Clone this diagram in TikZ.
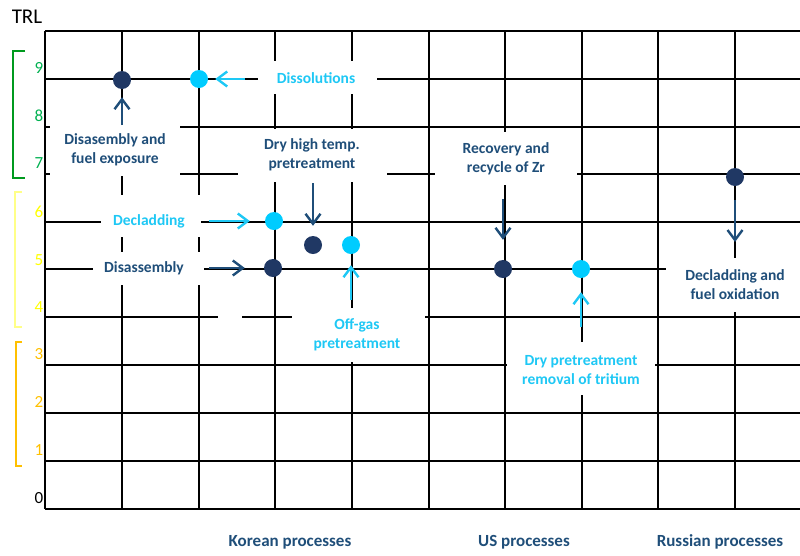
\documentclass[tikz,border=0pt]{standalone}
\usepackage{fontspec}
\setmainfont{Carlito}
\usetikzlibrary{arrows.meta}
\definecolor{navy}{HTML}{1F4E79}
\definecolor{navydot}{HTML}{203864}
\definecolor{sky}{HTML}{1EC8F5}
\definecolor{skydot}{HTML}{00CCFF}
\definecolor{trlgreen}{HTML}{00B050}
\definecolor{brgreen}{HTML}{009A1E}
\definecolor{trlyellow}{HTML}{FFFF00}
\definecolor{bryellow}{HTML}{FFFF88}
\definecolor{trlorange}{HTML}{FFC000}

\begin{document}
\begin{tikzpicture}[x=1pt,y=-1pt,
  grid/.style={line width=2.6pt, black},
  mask/.style={fill=white},
  lbl/.style={font=\fontsize{15.5}{19}\selectfont\bfseries, align=center, inner sep=0pt},
  dark/.style={lbl, text=navy},
  light/.style={lbl, text=sky},
  axis/.style={font=\fontsize{17}{17}\selectfont, inner sep=0pt},
  group/.style={font=\fontsize{17}{17}\selectfont\bfseries, text=navy, inner sep=0pt},
  bracket/.style={line width=2pt},
  dot/.style={circle, inner sep=0pt, minimum size=18pt},
  ddot/.style={dot, fill=navydot},
  ldot/.style={dot, fill=skydot},
  arr/.style={line width=2.4pt, -{Straight Barb[length=10pt,width=15pt]}},
  darr/.style={arr, navy},
  larr/.style={arr, sky}
]
\useasboundingbox (0,0) rectangle (800,555);

% grid
\foreach \y in {31,79,127,174,222,269,317,365,413,461,509}
  \draw[grid] (45,\y) -- (800,\y);
\foreach \x in {45,122,199,275,352,429,505,582,658,735}
  \draw[grid] (\x,31) -- (\x,509);

% white label backgrounds that break the grid
\fill[mask] (258,61) rectangle (377,94);
\fill[mask] (50,125) rectangle (180,176);
\fill[mask] (238,129) rectangle (387,182);
\fill[mask] (435,132) rectangle (577,185);
\fill[mask] (666,258) rectangle (800,312);
\fill[mask] (507,342) rectangle (655,395);
\fill[mask] (292,308) rectangle (425,362);
\fill[mask] (101,195) rectangle (201,237);
\fill[mask] (93,252) rectangle (204,285);
\fill[mask] (218,312) rectangle (242,322);

% axis title and TRL levels
\node[font=\fontsize{21}{21}\selectfont, inner sep=0pt] (trl) at (27,17) {TRL};
\foreach \n/\y/\c in {9/68/trlgreen,8/116/trlgreen,7/163/trlgreen,
                      6/212/trlyellow,5/260/trlyellow,4/307/trlyellow,
                      3/354/trlorange,2/402/trlorange,1/450/trlorange,0/498/black}
  \node[axis, text=\c] (lv\n) at (39,\y) {\n};

% brackets grouping the levels
\draw[bracket, brgreen] (25,51) -- (13,51) -- (13,178) -- (25,178);
\draw[bracket, bryellow] (22,192) -- (15,192) -- (15,327) -- (22,327);
\draw[bracket, trlorange] (22,342) -- (16,342) -- (16,466) -- (22,466);

% process points
\node[ddot] (dfuel) at (122,80) {};
\node[ldot] (ldiss) at (199,79) {};
\node[ldot] (ldecl) at (274,221) {};
\node[ddot] (ddry)  at (313,245) {};
\node[ldot] (loff)  at (351,245) {};
\node[ddot] (ddisa) at (273,268) {};
\node[ddot] (dzr)   at (503,269) {};
\node[ldot] (ltri)  at (581,269) {};
\node[ddot] (dox)   at (735,177) {};

% labels
\node[light] (tdiss) at (316,78) {Dissolutions};
\node[dark]  (tfuel) at (115,150) {Disasembly and\\fuel exposure};
\node[dark]  (tdry)  at (312,155) {Dry high temp.\\pretreatment};
\node[light] (tdecl) at (149,221) {Decladding};
\node[dark]  (tdisa) at (144,268) {Disassembly};
\node[light] (toff)  at (357,335) {Off-gas\\pretreatment};
\node[dark]  (tzr)   at (506,159) {Recovery and\\recycle of Zr};
\node[dark]  (tox)   at (735,285) {Decladding and\\fuel oxidation};
\node[light] (ttri)  at (581,370) {Dry pretreatment\\removal of tritium};

% arrows
\coordinate (adiss) at (245,79);
\coordinate (afuel) at (122,125);
\coordinate (adecl) at (209,221);
\coordinate (adisa) at (209,268);
\coordinate (adry)  at (313,183);
\coordinate (aoff)  at (351,300);
\coordinate (azr)   at (503,199);
\coordinate (aox)   at (735,242);
\coordinate (atri)  at (581,327);
\draw[larr, shorten >=7pt]  (adiss) -- (ldiss);
\draw[darr, shorten >=8pt]  (afuel) -- (dfuel);
\draw[larr, shorten >=15pt] (adecl) -- (ldecl);
\draw[darr, shorten >=19pt] (adisa) -- (ddisa);
\draw[darr, shorten >=10pt] (adry)  -- (ddry);
\draw[larr, shorten >=11pt] (aoff)  -- (loff);
\draw[darr, shorten >=20pt] (azr)   -- (dzr);
\draw[darr, shorten <=14pt] (dox)   -- (aox);
\draw[larr, shorten >=14pt] (atri)  -- (ltri);

% process groups
\node[group] (gkr) at (290,542) {Korean processes};
\node[group] (gus) at (524,542) {US processes};
\node[group] (gru) at (720,542) {Russian processes};
\end{tikzpicture}
\end{document}
